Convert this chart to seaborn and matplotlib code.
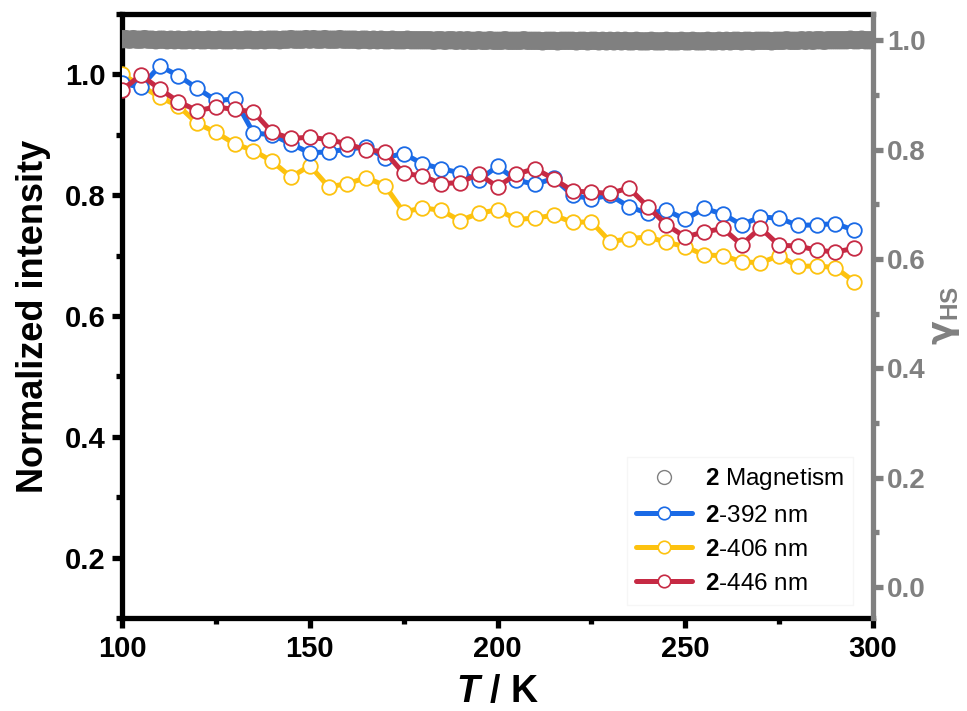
import numpy as np
import pandas as pd
import matplotlib
matplotlib.use("Agg")
import matplotlib.pyplot as plt
import seaborn as sns
from matplotlib.ticker import MultipleLocator, FormatStrFormatter
from matplotlib.lines import Line2D

# Emission intensity vs temperature (normalized), compound 2
temperature = [100, 105, 110, 115, 120, 125, 130, 135, 140, 145,
               150, 155, 160, 165, 170, 175, 180, 185, 190, 195,
               200, 205, 210, 215, 220, 225, 230, 235, 240, 245,
               250, 255, 260, 265, 270, 275, 280, 285, 290, 295]

intensity_392 = [0.985, 0.979, 1.014, 0.998, 0.977, 0.957, 0.959, 0.903, 0.900, 0.885,
                 0.870, 0.872, 0.876, 0.880, 0.862, 0.869, 0.852, 0.844, 0.837, 0.825,
                 0.848, 0.825, 0.818, 0.828, 0.800, 0.794, 0.800, 0.781, 0.770, 0.775,
                 0.760, 0.778, 0.769, 0.751, 0.764, 0.762, 0.750, 0.751, 0.753, 0.742]

intensity_406 = [1.000, 0.982, 0.962, 0.948, 0.919, 0.904, 0.885, 0.874, 0.856, 0.830,
                 0.849, 0.814, 0.819, 0.829, 0.816, 0.772, 0.779, 0.775, 0.758, 0.770,
                 0.776, 0.760, 0.762, 0.767, 0.755, 0.756, 0.723, 0.728, 0.731, 0.722,
                 0.715, 0.701, 0.700, 0.690, 0.688, 0.700, 0.682, 0.683, 0.680, 0.657]

intensity_446 = [0.974, 0.999, 0.976, 0.955, 0.940, 0.946, 0.942, 0.938, 0.904, 0.894,
                 0.896, 0.892, 0.885, 0.875, 0.872, 0.836, 0.832, 0.819, 0.821, 0.835,
                 0.814, 0.835, 0.844, 0.827, 0.807, 0.805, 0.803, 0.812, 0.781, 0.751,
                 0.731, 0.739, 0.745, 0.718, 0.746, 0.717, 0.716, 0.709, 0.706, 0.712]

# High-spin fraction from magnetic measurement (1 K steps, 100-300 K)
mag_temperature = np.arange(100, 301, 1)
gamma_hs = [1.002, 1.002, 1.001, 1.002, 1.001, 1.001, 1.002, 1.001, 1.001, 1.000,
            1.001, 1.001, 1.000, 1.001, 1.000, 1.001, 1.000, 1.000, 1.001, 1.000,
            1.001, 1.000, 1.000, 1.001, 1.000, 1.000, 1.001, 1.000, 1.000, 1.000,
            1.001, 1.000, 1.000, 1.001, 1.001, 1.000, 1.000, 1.001, 1.000, 1.001,
            1.001, 1.001, 1.000, 1.001, 1.001, 1.002, 1.001, 1.001, 1.001, 1.002,
            1.001, 1.002, 1.001, 1.001, 1.002, 1.001, 1.001, 1.001, 1.002, 1.001,
            1.001, 1.001, 1.001, 1.000, 1.001, 1.001, 1.000, 1.001, 1.000, 1.001,
            1.000, 1.000, 1.001, 1.000, 1.000, 1.000, 1.001, 1.000, 1.000, 1.000,
            1.000, 1.000, 1.000, 0.999, 1.000, 1.000, 0.999, 1.000, 1.000, 0.999,
            1.000, 0.999, 1.000, 0.999, 0.999, 1.000, 0.999, 0.999, 1.000, 0.999,
            0.999, 0.999, 1.000, 0.999, 0.999, 0.999, 0.999, 1.000, 0.999, 0.999,
            0.999, 0.999, 0.998, 0.999, 0.999, 0.999, 0.998, 0.999, 0.999, 0.999,
            0.999, 0.998, 0.999, 0.999, 0.998, 0.999, 0.999, 0.998, 0.999, 0.998,
            0.999, 0.998, 0.999, 0.998, 0.999, 0.998, 0.998, 0.999, 0.998, 0.998,
            0.998, 0.999, 0.998, 0.998, 0.998, 0.999, 0.998, 0.998, 0.998, 0.999,
            0.998, 0.998, 0.999, 0.998, 0.998, 0.998, 0.999, 0.998, 0.998, 0.999,
            0.998, 0.999, 0.998, 0.999, 0.999, 0.998, 0.999, 0.999, 0.998, 0.999,
            0.999, 0.999, 0.999, 0.998, 0.999, 0.999, 0.999, 1.000, 0.999, 0.999,
            0.999, 1.000, 0.999, 1.000, 0.999, 1.000, 1.000, 0.999, 1.000, 1.000,
            1.000, 1.000, 1.000, 1.000, 1.001, 1.000, 1.000, 1.001, 1.000, 1.000,
            1.000]

series_labels = [r"$\mathbf{2}$-392 nm", r"$\mathbf{2}$-406 nm", r"$\mathbf{2}$-446 nm"]
magnet_label = r"$\mathbf{2}$ Magnetism"

colors = {"392": "#1a6ae6", "406": "#fdc20f", "446": "#c62a44"}
gray = "#808080"

sns.set_theme(style="ticks")
plt.rcParams.update({
    "font.family": ["Liberation Sans", "DejaVu Sans"],
    "font.weight": "bold",
    "mathtext.fontset": "custom",
    "mathtext.rm": "Liberation Sans",
    "mathtext.bf": "Liberation Sans:bold",
    "mathtext.it": "Liberation Sans:italic:bold",
    "axes.edgecolor": "black",
    "text.color": "black",
    "axes.labelcolor": "black",
    "xtick.color": "black",
    "ytick.color": "black",
})

fig = plt.figure(figsize=(9.67, 7.11), dpi=100)
ax = fig.add_axes([0.1262, 0.1308, 0.7766, 0.8495])
ax2 = ax.twinx()

line_kw = dict(linewidth=3.6, marker="o", markersize=10.5, markerfacecolor="white",
               markeredgewidth=1.3, errorbar=None, sort=False)

order = [("406", intensity_406, 3), ("392", intensity_392, 4), ("446", intensity_446, 5)]
for key, vals, z in order:
    sns.lineplot(x=temperature, y=vals, ax=ax, color=colors[key],
                 markeredgecolor=colors[key], zorder=z, legend=False, **line_kw)

# densely sampled magnetic data: overlapping open circles merge into a band
sns.scatterplot(x=mag_temperature, y=gamma_hs, ax=ax2, marker="o", s=100,
                facecolor="none", edgecolor=gray, linewidth=3.2, legend=False)

# axes limits and ticks
ax.set_xlim(100, 300)
ax.set_ylim(0.1, 1.1)
ax2.set_ylim(-0.057, 1.048)
ax.xaxis.set_major_locator(MultipleLocator(50))
ax.xaxis.set_minor_locator(MultipleLocator(25))
ax.yaxis.set_minor_locator(MultipleLocator(0.1))
ax2.yaxis.set_minor_locator(MultipleLocator(0.1))
ax.set_yticks([0.2, 0.4, 0.6, 0.8, 1.0])
ax2.set_yticks([0.0, 0.2, 0.4, 0.6, 0.8, 1.0])
ax.yaxis.set_major_formatter(FormatStrFormatter("%.1f"))
ax2.yaxis.set_major_formatter(FormatStrFormatter("%.1f"))

lw_sp = 3.8
for side in ["left", "bottom", "top"]:
    ax.spines[side].set_linewidth(lw_sp)
    ax.spines[side].set_color("black")
ax.spines["right"].set_visible(False)
for side in ["left", "bottom", "top"]:
    ax2.spines[side].set_visible(False)
ax2.spines["right"].set_linewidth(lw_sp)
ax2.spines["right"].set_color(gray)

ax.tick_params(axis="both", which="major", direction="out", length=7, width=lw_sp,
               color="black", labelcolor="black", labelsize=21, pad=5)
ax.tick_params(axis="both", which="minor", direction="out", length=4, width=lw_sp,
               color="black")
ax.tick_params(axis="y", which="both", right=False)
ax.tick_params(axis="x", which="both", top=False)
ax2.tick_params(axis="y", which="major", direction="out", length=7, width=lw_sp,
                color=gray, labelcolor=gray, labelsize=20, pad=3)
ax2.tick_params(axis="y", which="minor", direction="out", length=4, width=lw_sp,
                color=gray)
for lab in ax.get_xticklabels() + ax.get_yticklabels() + ax2.get_yticklabels():
    lab.set_fontweight("bold")

ax.set_xlabel(r"$\it{T}$ / K", fontsize=27, fontweight="bold", labelpad=8)
ax.set_ylabel("Normalized intensity", fontsize=26, fontweight="bold", labelpad=10)
ax2.set_ylabel(r"γ$_{\mathbf{HS}}$", fontsize=25, color=gray, fontweight="bold",
               labelpad=2, family=["DejaVu Sans"])

# legend
handles = [
    Line2D([], [], linestyle="none", marker="o", markersize=10, markerfacecolor="white",
           markeredgecolor=gray, markeredgewidth=1.0),
    Line2D([], [], color=colors["392"], linewidth=3.6, marker="o", markersize=9,
           markerfacecolor="white", markeredgecolor=colors["392"], markeredgewidth=1.2),
    Line2D([], [], color=colors["406"], linewidth=3.6, marker="o", markersize=9,
           markerfacecolor="white", markeredgecolor=colors["406"], markeredgewidth=1.2),
    Line2D([], [], color=colors["446"], linewidth=3.6, marker="o", markersize=9,
           markerfacecolor="white", markeredgecolor=colors["446"], markeredgewidth=1.2),
]
labels = [magnet_label] + series_labels
leg = ax2.legend(handles, labels, loc="lower right", bbox_to_anchor=(0.99, 0.002),
                 fontsize=17.5, handlelength=2.3, handletextpad=0.5, labelspacing=0.5,
                 frameon=True, fancybox=False, borderpad=0.4)
leg.get_frame().set_edgecolor("#f4f4f4")
leg.get_frame().set_linewidth(1.0)
for t in leg.get_texts():
    t.set_fontweight("normal")

fig.savefig("out.png", dpi=100)
